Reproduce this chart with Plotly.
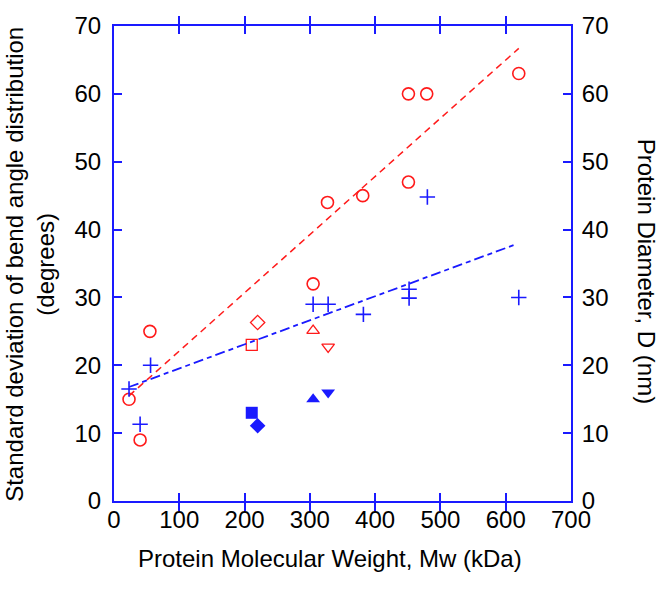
import plotly.graph_objects as go

# ---- data ----
mw_circles = [23, 40, 55, 305, 327, 381, 451, 451, 479, 620]
bend_circles = [15, 9, 25, 32, 44, 45, 60, 47, 60, 63]

mw_plus = [23, 40, 56, 305, 328, 382, 452, 452, 480, 620]
diam_plus = [16.5, 11.3, 20, 29, 29, 27.5, 31.2, 29.9, 44.8, 30]

mw_special = [211, 220, 305, 328]
bend_special = [23, 26.3, 25.1, 22.7]
diam_special = [13, 11.1, 15, 16]

red_fit_x = [23, 620]
red_fit_y = [15.5, 66.7]
blue_fit_x = [23, 612]
blue_fit_y = [16.8, 37.7]

x_ticks = [0, 100, 200, 300, 400, 500, 600, 700]
y_ticks = [0, 10, 20, 30, 40, 50, 60, 70]

RED = "#ff1a1a"
BLUE = "#1a1aff"
FONT = "Arial, Liberation Sans, sans-serif"
FS = 24

open_syms = ["square-open", "diamond-open", "triangle-up-open", "triangle-down-open"]
fill_syms = ["square", "diamond", "triangle-up", "triangle-down"]

fig = go.Figure()

fig.add_trace(go.Scatter(x=red_fit_x, y=red_fit_y, mode="lines",
                         line=dict(color=RED, width=1.5, dash="7px,5px"), showlegend=False))
fig.add_trace(go.Scatter(x=blue_fit_x, y=blue_fit_y, mode="lines", yaxis="y2",
                         line=dict(color=BLUE, width=1.8, dash="10px,4px,5px,4px"), showlegend=False))

fig.add_trace(go.Scatter(x=mw_circles, y=bend_circles, mode="markers",
                         marker=dict(symbol="circle-open", size=12, color=RED, line=dict(width=1.6)),
                         showlegend=False))
fig.add_trace(go.Scatter(x=mw_special, y=bend_special, mode="markers",
                         marker=dict(symbol=open_syms, size=11, color=RED, line=dict(width=1.3)),
                         showlegend=False))
fig.add_trace(go.Scatter(x=mw_plus, y=diam_plus, mode="markers", yaxis="y2",
                         marker=dict(symbol="cross-thin", size=11, color=BLUE, line=dict(width=1.6, color=BLUE)),
                         showlegend=False))
fig.add_trace(go.Scatter(x=mw_special, y=diam_special, mode="markers", yaxis="y2",
                         marker=dict(symbol=fill_syms, size=12, color=BLUE, line=dict(width=0)),
                         showlegend=False))

axis_common = dict(
    showline=True, linecolor=BLUE, linewidth=2,
    ticks="inside", ticklen=8, tickwidth=1.5, tickcolor=BLUE,
    showgrid=False, zeroline=False, ticklabeloverflow="allow",
    tickfont=dict(family=FONT, size=FS, color="black"),
)

fig.update_layout(
    width=664, height=593,
    margin=dict(l=114, r=93, t=21, b=92),
    plot_bgcolor="white", paper_bgcolor="white",
    font=dict(family=FONT, color="black"),
    xaxis=dict(range=[0, 700], tickvals=x_ticks, mirror="allticks",
               ticklabelstandoff=-4, **axis_common),
    yaxis=dict(range=[0, 70], tickvals=y_ticks, ticklabelstandoff=6, **axis_common),
    yaxis2=dict(range=[0, 70], tickvals=y_ticks, overlaying="y", side="right",
                ticklabelstandoff=4, **axis_common),
    annotations=[
        dict(text="Protein Molecular Weight, Mw (kDa)", xref="paper", yref="paper",
             x=0.473, y=-0.121, xanchor="center", yanchor="middle", showarrow=False,
             font=dict(family=FONT, size=FS, color="black")),
        dict(text="Standard deviation of bend angle distribution<br>(degrees)",
             xref="paper", yref="paper", x=-0.183, y=0.498, textangle=-90,
             xanchor="center", yanchor="middle", showarrow=False,
             font=dict(family=FONT, size=FS, color="black")),
        dict(text="Protein Diameter, D (nm)", xref="paper", yref="paper",
             x=1.166, y=0.483, textangle=90, xanchor="center", yanchor="middle",
             showarrow=False, font=dict(family=FONT, size=FS, color="black")),
    ],
)

fig.write_html("out.html", config={"displayModeBar": False},
               post_script="document.body.style.margin='0px';")
